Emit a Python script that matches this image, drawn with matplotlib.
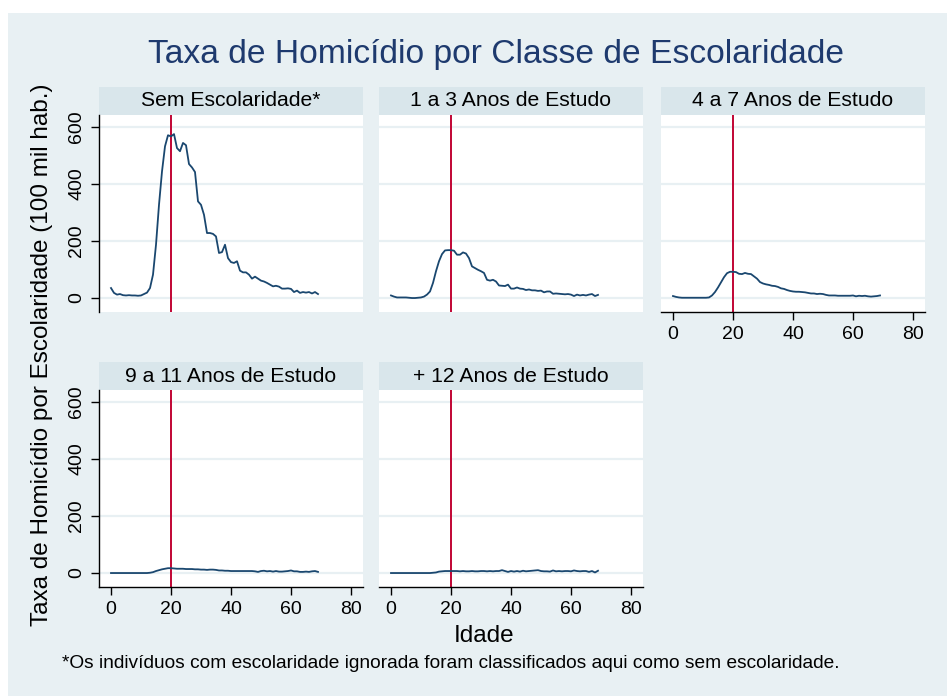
import matplotlib
matplotlib.use('Agg')
import matplotlib.pyplot as plt
from matplotlib.patches import Rectangle

plt.rcParams['font.family'] = ['Liberation Sans', 'DejaVu Sans']

ages = list(range(70))

sem_escolaridade = [35, 18, 12, 14, 10, 9, 10, 9, 9, 8, 9, 14, 19, 35, 82, 187, 327, 444, 532, 571,
                    567, 575, 526, 515, 544, 536, 470, 458, 442, 339, 327, 292, 228, 228, 225, 216, 158, 161, 187, 140,
                    126, 123, 129, 96, 90, 90, 82, 68, 75, 68, 61, 58, 53, 47, 41, 43, 40, 33, 33, 34,
                    32, 21, 26, 18, 21, 19, 21, 16, 21, 14]
anos_1_3 = [9, 5, 2, 2, 2, 2, 1, 0, 0, 1, 2, 5, 12, 23, 53, 94, 129, 154, 167, 168,
            168, 166, 152, 152, 160, 156, 140, 111, 105, 99, 94, 88, 64, 61, 64, 58, 44, 43, 42, 47,
            33, 33, 37, 33, 32, 28, 30, 27, 27, 25, 26, 20, 23, 23, 15, 16, 15, 14, 13, 14,
            12, 7, 12, 9, 11, 9, 12, 14, 7, 11]
anos_4_7 = [7, 4, 2, 1, 1, 1, 1, 1, 1, 1, 1, 1, 2, 9, 21, 37, 55, 73, 87, 92,
            92, 91, 85, 84, 88, 85, 84, 76, 68, 56, 51, 48, 46, 43, 42, 39, 34, 32, 28, 25,
            23, 22, 22, 21, 20, 18, 16, 16, 14, 15, 14, 11, 9, 9, 9, 8, 8, 8, 8, 8,
            9, 6, 8, 7, 8, 6, 5, 6, 7, 9]
anos_9_11 = [0, 0, 0, 0, 0, 0, 0, 0, 0, 0, 0, 0, 0, 1, 3, 7, 10, 13, 15, 17,
             17, 16, 15, 15, 15, 14, 14, 14, 13, 13, 12, 12, 11, 12, 12, 11, 9, 9, 8, 8,
             7, 7, 7, 7, 7, 7, 7, 7, 6, 4, 7, 8, 6, 7, 5, 7, 5, 5, 6, 7,
             9, 6, 6, 4, 4, 5, 4, 6, 7, 4]
anos_12_mais = [0, 0, 0, 0, 0, 0, 0, 0, 0, 0, 0, 0, 0, 0, 1, 2, 5, 6, 7, 7,
                7, 7, 7, 6, 7, 6, 6, 7, 6, 6, 7, 7, 6, 7, 6, 7, 7, 10, 7, 4,
                7, 5, 7, 5, 8, 6, 7, 8, 9, 10, 7, 6, 6, 5, 9, 6, 7, 6, 7, 7,
                6, 9, 7, 6, 7, 7, 4, 7, 2, 8]

panel_titles = ['Sem Escolaridade*', '1 a 3 Anos de Estudo', '4 a 7 Anos de Estudo',
                '9 a 11 Anos de Estudo', '+ 12 Anos de Estudo']
series = [sem_escolaridade, anos_1_3, anos_4_7, anos_9_11, anos_12_mais]

x_ticks = [0, 20, 40, 60, 80]
y_ticks = [0, 200, 400, 600]
ref_age = 20

bg = '#e8f0f3'
strip_bg = '#d9e6eb'
navy = '#1a476f'
red = '#c10534'

W, H = 947, 696
fig = plt.figure(figsize=(W / 100, H / 100), dpi=100)
fig.patch.set_facecolor('white')
fig.patches.append(Rectangle((8 / W, 0), 1, 1 - 13 / H, transform=fig.transFigure,
                             facecolor=bg, edgecolor='none', zorder=-10))

# panel positions in pixels: (left, top)
lefts = [99, 379, 661]
tops = [115, 390]
pw, ph = 264, 197
strip_h = 28
positions = [(lefts[0], tops[0]), (lefts[1], tops[0]), (lefts[2], tops[0]),
             (lefts[0], tops[1]), (lefts[1], tops[1])]

for i, (title, vals) in enumerate(zip(panel_titles, series)):
    l, t = positions[i]
    ax = fig.add_axes([l / W, (H - t - ph) / H, pw / W, ph / H])
    ax.set_facecolor('white')
    ax.set_xlim(-4, 84)
    ax.set_ylim(-49, 642)
    for yt in y_ticks:
        ax.axhline(yt, color=bg, lw=1.6, zorder=1)
    ax.axvline(ref_age, color=red, lw=1.4, zorder=2)
    ax.plot(ages, vals, color=navy, lw=1.3, zorder=3)

    for s in ax.spines.values():
        s.set_visible(False)
    left_col = i in (0, 3)
    has_x = i in (2, 3, 4)
    if left_col:
        ax.spines['left'].set_visible(True)
        ax.spines['left'].set_color('black')
        ax.spines['left'].set_linewidth(1.0)
        ax.set_yticks(y_ticks)
        ax.set_yticklabels([str(v) for v in y_ticks], rotation=90, va='center', fontsize=14)
    else:
        ax.set_yticks([])
    if has_x:
        ax.spines['bottom'].set_visible(True)
        ax.spines['bottom'].set_color('black')
        ax.spines['bottom'].set_linewidth(1.0)
        ax.set_xticks(x_ticks)
        ax.set_xticklabels([str(v) for v in x_ticks], fontsize=14)
    else:
        ax.set_xticks([])
    ax.tick_params(length=6, width=1.0, pad=4)

    # strip header
    sh = strip_h / ph
    ax.add_patch(Rectangle((0, 1), 1, sh, transform=ax.transAxes, facecolor=strip_bg,
                           edgecolor='none', clip_on=False, zorder=0))
    ax.text(0.5, 1 + sh / 2, title, transform=ax.transAxes, ha='center', va='center',
            fontsize=15.2, color='black')

fig.text(496 / W, 1 - 55 / H, 'Taxa de Homicídio por Classe de Escolaridade',
         ha='center', va='center', fontsize=24.2, color='#1e3a6e')
fig.text(42 / W, 1 - 355 / H, 'Taxa de Homicídio por Escolaridade (100 mil hab.)',
         ha='center', va='center', rotation=90, fontsize=17.5)
fig.text(484 / W, 1 - 636 / H, 'Idade', ha='center', va='center', fontsize=17.5)
fig.text(62 / W, 1 - 664 / H,
         '*Os indivíduos com escolaridade ignorada foram classificados aqui como sem escolaridade.',
         ha='left', va='center', fontsize=13.75)

fig.savefig('out.png', dpi=100, facecolor=fig.get_facecolor())
